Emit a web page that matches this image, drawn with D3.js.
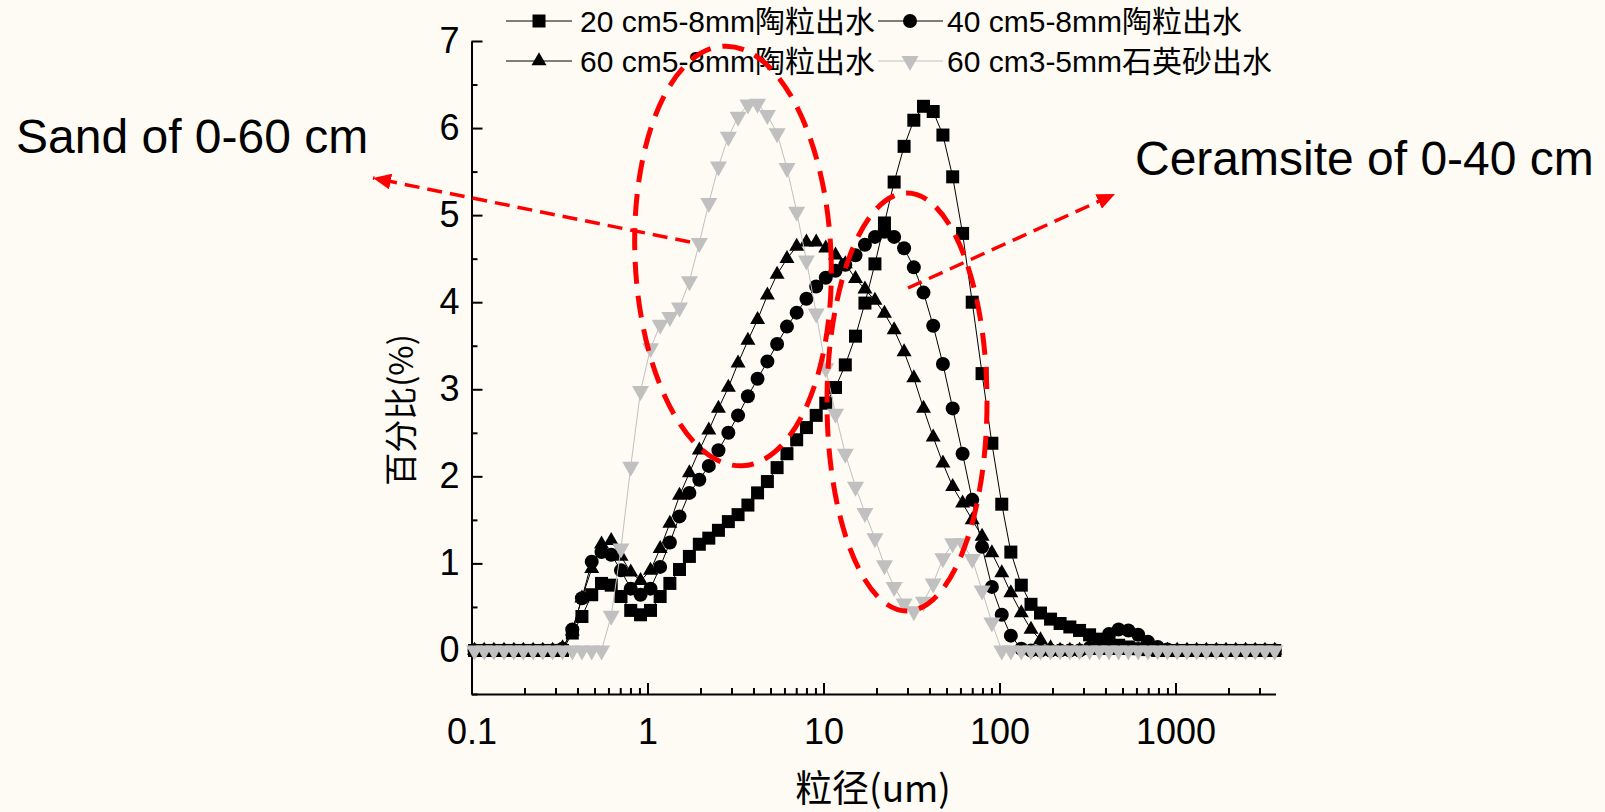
<!DOCTYPE html>
<html lang='zh'>

<head>
    <meta charset='UTF-8'>
    <title>粒径分布</title>
    <script src='https://d3js.org/d3.v7.min.js' charset='utf-8'></script>
    <style>
        body {
            margin: 0px;
            overflow: hidden;
            background: #fefbf5;
        }

        svg text {
            font-family: 'Liberation Sans', Arial, 'Noto Sans CJK SC', sans-serif;
            fill: #000;
        }

        .cjk {
            font-family: 'Noto Sans CJK SC', sans-serif !important;
        }
    </style>
</head>

<body>
    <div id='chart'></div>
    <script>
        'use strict';

        // particle size classes (um)
        const sizes = [0.104, 0.118, 0.134, 0.153, 0.174, 0.197, 0.224, 0.254, 0.289, 0.329,
            0.374, 0.424, 0.482, 0.548, 0.622, 0.707, 0.803, 0.913, 1.04, 1.18,
            1.34, 1.52, 1.73, 1.97, 2.23, 2.53, 2.88, 3.27, 3.72, 4.22,
            4.80, 5.45, 6.20, 7.04, 8.00, 9.09, 10.3, 11.7, 13.3, 15.2,
            17.2, 19.6, 22.2, 25.2, 28.7, 32.6, 37.0, 42.0, 47.7, 54.2,
            61.7, 70.0, 79.6, 90.5, 103, 116, 133, 151, 171, 195,
            221, 251, 285, 325, 369, 419, 475, 540, 614, 697,
            792, 899, 1022, 1162, 1319, 1497, 1707, 1937, 2199, 2502,
            2837, 3225, 3665];

        const cer20 = [0, 0, 0, 0, 0, 0, 0, 0, 0, 0,
            0.2, 0.39, 0.64, 0.77, 0.75, 0.62, 0.46, 0.41, 0.46, 0.62,
            0.77, 0.93, 1.08, 1.22, 1.29, 1.38, 1.48, 1.56, 1.67, 1.81,
            1.94, 2.1, 2.26, 2.42, 2.56, 2.7, 2.84, 3.02, 3.28, 3.61,
            3.99, 4.44, 4.91, 5.38, 5.79, 6.09, 6.25, 6.19, 5.92, 5.44,
            4.79, 4.0, 3.18, 2.38, 1.68, 1.13, 0.75, 0.53, 0.43, 0.36,
            0.31, 0.27, 0.23, 0.18, 0.13, 0.09, 0.06, 0.04, 0.02, 0.01,
            0, 0, 0, 0, 0, 0, 0, 0, 0, 0,
            0, 0, 0];

        const cer40 = [0, 0, 0, 0, 0, 0, 0, 0, 0, 0.02,
            0.24, 0.6, 1.02, 1.13, 1.1, 0.92, 0.71, 0.64, 0.71, 0.96,
            1.24, 1.54, 1.81, 1.96, 2.12, 2.3, 2.5, 2.7, 2.92, 3.12,
            3.32, 3.52, 3.72, 3.88, 4.04, 4.18, 4.28, 4.36, 4.43, 4.54,
            4.66, 4.75, 4.81, 4.75, 4.62, 4.4, 4.11, 3.73, 3.29, 2.78,
            2.26, 1.73, 1.19, 0.73, 0.41, 0.17, 0.02, 0, 0, 0,
            0, 0, 0, 0.03, 0.1, 0.19, 0.24, 0.23, 0.18, 0.1,
            0.04, 0.01, 0, 0, 0, 0, 0, 0, 0, 0,
            0, 0, 0];

        const cer60 = [0, 0, 0, 0, 0, 0, 0, 0, 0, 0.03,
            0.22, 0.6, 0.94, 1.22, 1.26, 1.08, 0.9, 0.8, 0.92, 1.17,
            1.46, 1.78, 2.04, 2.3, 2.53, 2.78, 3.02, 3.3, 3.56, 3.8,
            4.08, 4.32, 4.5, 4.64, 4.69, 4.69, 4.62, 4.54, 4.44, 4.27,
            4.15, 4.02, 3.87, 3.68, 3.43, 3.13, 2.78, 2.45, 2.15, 1.88,
            1.69, 1.5, 1.31, 1.12, 0.89, 0.66, 0.43, 0.24, 0.12, 0.03,
            0, 0, 0, 0, 0, 0, 0, 0, 0, 0,
            0, 0, 0, 0, 0, 0, 0, 0, 0, 0,
            0, 0, 0];

        const sand60 = [0, 0, 0, 0, 0, 0, 0, 0, 0, 0,
            0, 0, 0, 0, 0.4, 1.17, 2.11, 2.98, 3.47, 3.74,
            3.83, 3.94, 4.24, 4.68, 5.14, 5.56, 5.9, 6.13, 6.27, 6.28,
            6.15, 5.94, 5.54, 5.04, 4.48, 3.87, 3.24, 2.72, 2.26, 1.88,
            1.58, 1.29, 0.98, 0.73, 0.54, 0.45, 0.56, 0.77, 1.06, 1.23,
            1.23, 1.05, 0.69, 0.32, 0, 0, 0, 0, 0, 0,
            0, 0, 0, 0, 0, 0, 0, 0, 0, 0,
            0, 0, 0, 0, 0, 0, 0, 0, 0, 0,
            0, 0, 0];

        const seriesNames = ['20 cm5-8mm陶粒出水', '40 cm5-8mm陶粒出水', '60 cm5-8mm陶粒出水', '60 cm3-5mm石英砂出水'];
        const xTicks = [0.1, 1, 10, 100, 1000];
        const xTickLabels = ['0.1', '1', '10', '100', '1000'];
        const yTicks = [0, 1, 2, 3, 4, 5, 6, 7];

        const width = 1605, height = 812;
        const plot = { left: 471.5, right: 1275.5, top: 41, bottom: 694 };

        const svg = d3.select('#chart')
            .append('svg')
            .attr('width', width)
            .attr('height', height);

        svg.append('rect')
            .attr('width', width)
            .attr('height', height)
            .attr('fill', '#fefbf5');

        const x = d3.scaleLog()
            .domain([0.1, 3700])
            .range([plot.left, plot.right]);

        const y = d3.scaleLinear()
            .domain([-0.5, 7])
            .range([plot.bottom, plot.top]);

        // minor ticks
        const xMinor = [];
        [0.1, 1, 10, 100, 1000].forEach(d => {
            for (let k = 2; k <= 9; k++) {
                if (d * k <= 3700) xMinor.push(d * k);
            }
        });
        const yMinor = [-0.5, 0.5, 1.5, 2.5, 3.5, 4.5, 5.5, 6.5];

        function styleAxis(g) {
            g.selectAll('line').attr('stroke', '#000').attr('stroke-width', 2);
            g.selectAll('path').attr('stroke', '#000').attr('stroke-width', 2);
        }

        svg.append('g')
            .attr('transform', `translate(0, ${plot.bottom})`)
            .call(d3.axisBottom(x).tickValues(xMinor).tickSize(-6).tickSizeOuter(0).tickFormat(''))
            .call(styleAxis)
            .call(g => g.select('.domain').remove());

        svg.append('g')
            .attr('transform', `translate(${plot.left}, 0)`)
            .call(d3.axisLeft(y).tickValues(yMinor).tickSize(-6).tickSizeOuter(0).tickFormat(''))
            .call(styleAxis)
            .call(g => g.select('.domain').remove());

        const xAxis = svg.append('g')
            .attr('transform', `translate(0, ${plot.bottom})`)
            .call(d3.axisBottom(x)
                .tickValues(xTicks)
                .tickSize(-11)
                .tickSizeOuter(0)
                .tickPadding(24)
                .tickFormat((d, i) => xTickLabels[i]))
            .call(styleAxis);
        xAxis.selectAll('text')
            .attr('font-size', 36);

        const yAxis = svg.append('g')
            .attr('transform', `translate(${plot.left}, 0)`)
            .call(d3.axisLeft(y)
                .tickValues(yTicks)
                .tickSize(-11)
                .tickSizeOuter(0)
                .tickPadding(12)
                .tickFormat(d3.format('d')))
            .call(styleAxis);
        yAxis.selectAll('text')
            .attr('font-size', 36);

        // axis titles
        svg.append('text')
            .attr('class', 'cjk')
            .attr('transform', 'translate(399, 410) rotate(-90)')
            .attr('text-anchor', 'middle')
            .attr('dominant-baseline', 'central')
            .attr('font-size', 33)
            .text('百分比(%)');

        svg.append('text')
            .attr('class', 'cjk')
            .attr('x', 873)
            .attr('y', 786)
            .attr('text-anchor', 'middle')
            .attr('dominant-baseline', 'central')
            .attr('font-size', 37)
            .text('粒径(um)');

        // marker shapes
        const shapes = {
            square: 'M-6.5,-6.5H6.5V6.5H-6.5Z',
            circle: 'M7,0A7,7 0 1,1 -7,0A7,7 0 1,1 7,0Z',
            up: 'M0,-8.7L7.5,4.3L-7.5,4.3Z',
            down: 'M0,10L8.5,-5L-8.5,-5Z'
        };

        const series = [
            { name: seriesNames[0], values: cer20, shape: 'square', color: '#000' },
            { name: seriesNames[1], values: cer40, shape: 'circle', color: '#000' },
            { name: seriesNames[2], values: cer60, shape: 'up', color: '#000' },
            { name: seriesNames[3], values: sand60, shape: 'down', color: '#c0c0c0' }
        ];

        const line = d3.line()
            .x(d => x(d[0]))
            .y(d => y(d[1]));

        series.forEach(s => {
            const pts = sizes.map((v, i) => [v, s.values[i]]);
            const g = svg.append('g');
            g.append('path')
                .datum(pts)
                .attr('d', line)
                .attr('fill', 'none')
                .attr('stroke', s.color)
                .attr('stroke-width', 1);
            g.selectAll('path.pt')
                .data(pts)
                .enter()
                .append('path')
                .attr('class', 'pt')
                .attr('d', shapes[s.shape])
                .attr('transform', d => `translate(${x(d[0])}, ${y(d[1])})`)
                .attr('fill', s.color);
        });

        // legend
        const legendPos = [
            { x0: 506, x1: 572, mx: 539, tx: 580, y: 21 },
            { x0: 878, x1: 943, mx: 910, tx: 947, y: 21 },
            { x0: 506, x1: 572, mx: 539, tx: 580, y: 61 },
            { x0: 878, x1: 943, mx: 910, tx: 947, y: 61 }
        ];
        const legend = svg.append('g');
        series.forEach((s, i) => {
            const p = legendPos[i];
            legend.append('line')
                .attr('x1', p.x0).attr('x2', p.x1)
                .attr('y1', p.y).attr('y2', p.y)
                .attr('stroke', s.color)
                .attr('stroke-width', 1);
            legend.append('path')
                .attr('d', shapes[s.shape])
                .attr('transform', `translate(${p.mx}, ${p.y})`)
                .attr('fill', s.color);
            legend.append('text')
                .attr('x', p.tx)
                .attr('y', p.y)
                .attr('dominant-baseline', 'central')
                .attr('font-size', 30)
                .text(s.name);
        });

        // annotations
        const defs = svg.append('defs');
        defs.append('marker')
            .attr('id', 'arrow')
            .attr('markerUnits', 'userSpaceOnUse')
            .attr('markerWidth', 20)
            .attr('markerHeight', 16)
            .attr('refX', 18)
            .attr('refY', 8)
            .attr('orient', 'auto')
            .append('path')
            .attr('d', 'M0,0L18,8L0,16Z')
            .attr('fill', '#ff0000');

        const ann = svg.append('g')
            .attr('fill', 'none')
            .attr('stroke', '#ff0000');

        ann.append('ellipse')
            .attr('cx', 733).attr('cy', 256)
            .attr('rx', 98).attr('ry', 210)
            .attr('transform', 'rotate(-2.5, 733, 256)')
            .attr('stroke-width', 5)
            .attr('stroke-dasharray', '22 12');

        ann.append('ellipse')
            .attr('cx', 907).attr('cy', 402)
            .attr('rx', 80).attr('ry', 209)
            .attr('stroke-width', 5)
            .attr('stroke-dasharray', '22 12');

        ann.append('line')
            .attr('x1', 690).attr('y1', 242)
            .attr('x2', 373).attr('y2', 178)
            .attr('stroke-width', 3.5)
            .attr('stroke-dasharray', '15 8')
            .attr('marker-end', 'url(#arrow)');

        ann.append('line')
            .attr('x1', 908).attr('y1', 288)
            .attr('x2', 1115).attr('y2', 194)
            .attr('stroke-width', 3.5)
            .attr('stroke-dasharray', '15 8')
            .attr('marker-end', 'url(#arrow)');

        svg.append('text')
            .attr('x', 16)
            .attr('y', 153)
            .attr('font-size', 48)
            .text('Sand of 0-60 cm');

        svg.append('text')
            .attr('x', 1135)
            .attr('y', 175)
            .attr('font-size', 48)
            .text('Ceramsite of 0-40 cm');
    </script>
</body>

</html>
